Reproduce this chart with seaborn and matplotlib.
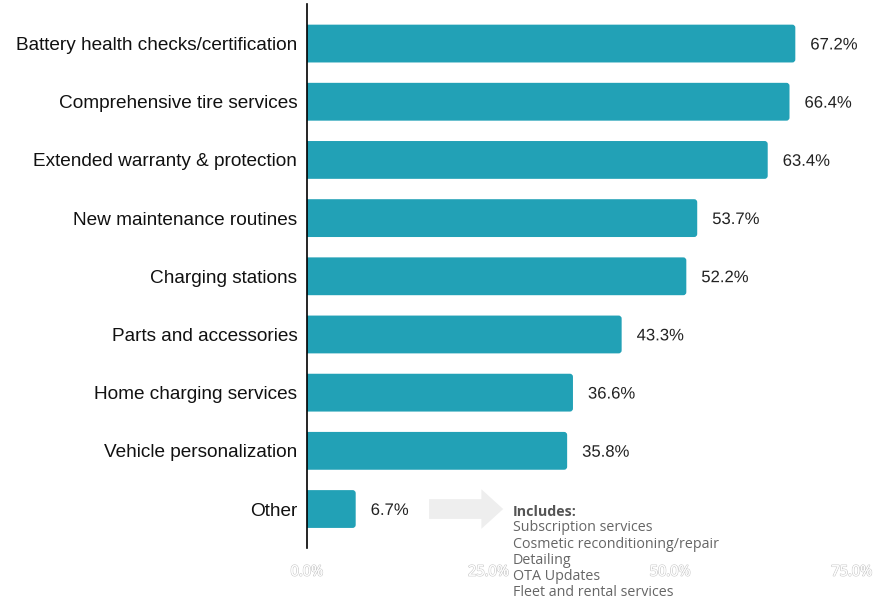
import matplotlib
matplotlib.use("Agg")
import matplotlib.pyplot as plt
import matplotlib.patheffects as pe
from matplotlib.patches import FancyBboxPatch, FancyArrow
import seaborn as sns
import pandas as pd

categories = [
    "Battery health checks/certification",
    "Comprehensive tire services",
    "Extended warranty & protection",
    "New maintenance routines",
    "Charging stations",
    "Parts and accessories",
    "Home charging services",
    "Vehicle personalization",
    "Other",
]
values = [67.2, 66.4, 63.4, 53.7, 52.2, 43.3, 36.6, 35.8, 6.7]
xticks = [0, 25, 50, 75]
xtick_labels = ["0.0%", "25.0%", "50.0%", "75.0%"]
other_items = [
    "Subscription services",
    "Cosmetic reconditioning/repair",
    "Detailing",
    "OTA Updates",
    "Fleet and rental services",
]

BAR_COLOR = "#22a1b6"
W, H = 893, 601

sns.set_theme(style="white")
plt.rcParams["font.family"] = ["Liberation Sans", "DejaVu Sans"]

df = pd.DataFrame({"category": categories, "value": values})

fig = plt.figure(figsize=(W / 100, H / 100), dpi=100)
ax = fig.add_axes([307 / W, 1 - 548 / H, (852 - 307) / W, (548 - 4) / H])

sns.barplot(data=df, x="value", y="category", color=BAR_COLOR, width=0.65,
            saturation=1, ax=ax, orient="h")

ax.set_xlim(0, 75)
ax.set_ylim(8.67, -0.68)

# swap the plain rectangles for bars with softly rounded ends
for p in list(ax.patches):
    x, y = p.get_x(), p.get_y()
    w, h = p.get_width(), p.get_height()
    p.remove()
    fb = FancyBboxPatch((x - 1.0, y), w + 1.0, h,
                        boxstyle="round,pad=0,rounding_size=0.42",
                        mutation_aspect=0.125,
                        facecolor=BAR_COLOR, edgecolor="none", zorder=2)
    ax.add_patch(fb)

# value labels
halo = [pe.withStroke(linewidth=3, foreground="white")]
for i, v in enumerate(values):
    ax.annotate(f"{v:.1f}%", xy=(v, i), xytext=(10.8, -1), textcoords="offset points",
                ha="left", va="center", fontsize=12, color="#222222",
                path_effects=halo)

# axes styling
for side in ["top", "right", "bottom"]:
    ax.spines[side].set_visible(False)
ax.spines["left"].set_color("black")
ax.spines["left"].set_linewidth(1.2)
ax.spines["left"].set_zorder(5)
ax.set_xlabel("")
ax.set_ylabel("")
ax.tick_params(axis="y", length=0, pad=7, labelsize=13.7, labelcolor="#111111")
ax.set_xticks(xticks)
ax.set_xticklabels(xtick_labels)
ax.tick_params(axis="x", length=0, pad=12)
for lbl in ax.get_xticklabels():
    lbl.set_fontfamily(["Open Sans", "DejaVu Sans"])
    lbl.set_fontsize(10.5)
    lbl.set_color("white")
    lbl.set_path_effects([pe.withStroke(linewidth=1.0, foreground="#c8c8c8"),
                          pe.Normal()])

# arrow pointing to the breakdown of "Other"
arrow = FancyArrow(16.8, 8.0, 10.2, 0, width=0.34, head_width=0.68,
                   head_length=3.0, length_includes_head=True,
                   facecolor="#eeeeee", edgecolor="none", zorder=1,
                   clip_on=False)
ax.add_patch(arrow)

ax.text(28.3, 8.05, "Includes:", fontsize=10.3, fontweight="bold",
        color="#555555", family=["Open Sans", "DejaVu Sans"],
        va="center", ha="left", clip_on=False)
for k, item in enumerate(other_items):
    ax.text(28.3, 8.05 + (k + 1) * 0.276, item, fontsize=10.3, color="#666666",
            family=["Open Sans", "DejaVu Sans"], va="center", ha="left",
            clip_on=False)

fig.savefig("out.png", dpi=100, facecolor="white")
